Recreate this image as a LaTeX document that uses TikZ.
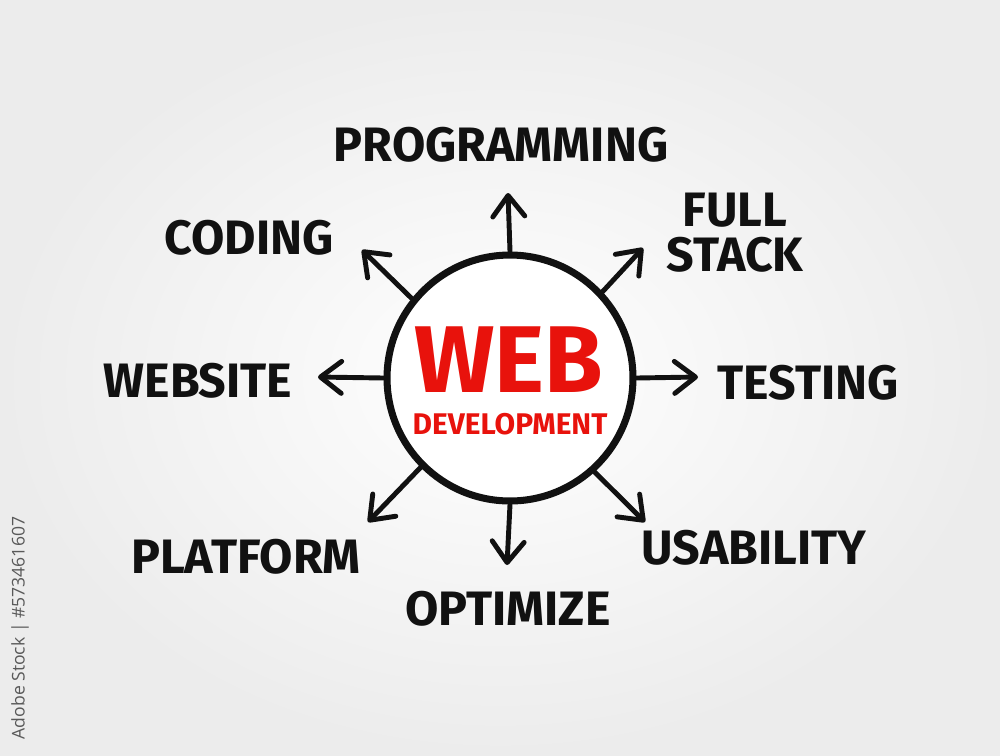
\documentclass[tikz,border=0pt]{standalone}
\usepackage{fontspec}
\setmainfont{Fira Sans}
\newfontfamily\stockfont{Open Sans}
\usetikzlibrary{arrows.meta}
\definecolor{webred}{HTML}{E8120C}
\definecolor{paper}{HTML}{ECECEC}
\definecolor{ink}{HTML}{111111}

\begin{document}
\begin{tikzpicture}
[x=0.02cm, y=-0.02cm,
  hubDecorate/.style={shape=circle,draw=ink,line width=4pt,fill=white,inner sep=0pt,minimum size=4.92cm},
  labelDecorate/.style={font=\fontsize{27.5}{25.6}\selectfont\bfseries,text=ink,inner sep=0pt,align=center},
  arrowDecorate/.style={draw=ink,line width=2.8pt,line cap=round,-{Straight Barb[length=4.2mm,width=6.4mm,line cap=round,round]}}]
%% background
\shade[inner color=white, outer color=paper] (0,0) rectangle (1000,755);
\useasboundingbox (0,0) rectangle (1000,755);
%% hub in the middle
\node (hub) at (510,378) [hubDecorate] {};
\node (webtitle) at (509,360) [font=\fontsize{54}{56}\selectfont\bfseries,text=webred,inner sep=0pt] {WEB};
\node (devtitle) at (510,424) [font=\fontsize{17}{19}\selectfont\bfseries,text=webred,inner sep=0pt] {DEVELOPMENT};
%% labels round the hub
\foreach \nodename/\x/\y/\txt in {
  programming/501/145/PROGRAMMING, coding/249/238/CODING,
  fullstack/735/233/{FULL\\STACK}, testing/808/383/TESTING,
  website/198/381/WEBSITE, platform/246/557/PLATFORM,
  optimize/508/609/OPTIMIZE, usability/754/548/USABILITY}
{
  \node (\nodename) at (\x,\y) [labelDecorate] {\txt};
}
%% arrow tips
\foreach \tipname/\x/\y in {
  tProg/508/193, tCod/362/250, tFull/643/248, tTest/698/377,
  tWeb/318/377, tPlat/368/522, tOpt/507/565, tUsa/645/522}
{
  \coordinate (\tipname) at (\x,\y);
}
%% arrows out of the hub
\foreach \ang/\tipname in {
  90/tProg, 141/tCod, 43/tFull, 0/tTest,
  180/tWeb, 225/tPlat, 270/tOpt, 312/tUsa}
{
  \draw[arrowDecorate] (hub.\ang) -- (\tipname);
}
%% stock id
\node (stockid) at (20,628) [rotate=90,font=\stockfont\fontsize{10}{12}\selectfont,text=black!65,inner sep=0pt] {Adobe Stock | \#573461607};
\end{tikzpicture}
\end{document}
